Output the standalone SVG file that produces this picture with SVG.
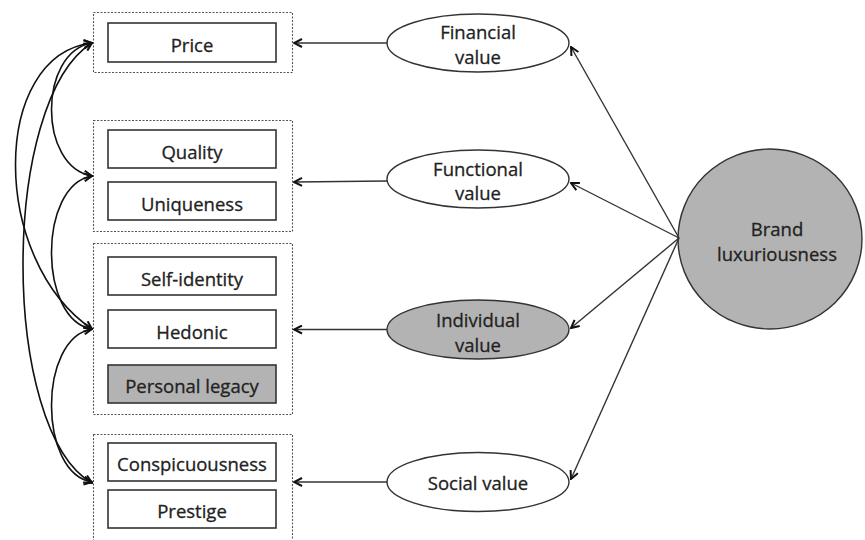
<svg xmlns="http://www.w3.org/2000/svg" width="865" height="540" viewBox="0 0 865 540">
  <defs>
    <style>
      .grp { fill: none; stroke: #555; stroke-width: 1.1; stroke-dasharray: 2 1.5; }
      .item { fill: #fff; stroke: #333; stroke-width: 1.6; }
      .item.shade { fill: #b3b3b3; }
      .oval { fill: #fff; stroke: #333; stroke-width: 1.4; }
      .oval.shade { fill: #b3b3b3; }
      .lbl { font-family: "Open Sans", "Liberation Sans", sans-serif; font-size: 18.5px; fill: #222; stroke: #222; stroke-width: 0.3; text-anchor: middle; }
      .edge { fill: none; stroke: #333; stroke-width: 1.4; }
      .corr { fill: none; stroke: #111; stroke-width: 1.6; }
    </style>
    <marker id="head" viewBox="0 0 10 10" refX="9" refY="5" markerWidth="10" markerHeight="10" markerUnits="userSpaceOnUse" orient="auto-start-reverse">
      <path d="M1,1 L9,5 L1,9" fill="none" stroke="#111" stroke-width="2"/>
    </marker>
  </defs>

  <!-- Group 1: price -->
  <g id="group-financial">
    <rect class="grp" x="93.5" y="12.5" width="199" height="60"/>
    <g id="price">
      <rect class="item" x="108" y="23" width="168" height="39"/>
      <text class="lbl" x="192" y="52">Price</text>
    </g>
  </g>

  <!-- Group 2: quality, uniqueness -->
  <g id="group-functional">
    <rect class="grp" x="93.5" y="120.5" width="199" height="111"/>
    <g id="quality">
      <rect class="item" x="108" y="130" width="168" height="38"/>
      <text class="lbl" x="192" y="158.5">Quality</text>
    </g>
    <g id="uniqueness">
      <rect class="item" x="108" y="182" width="168" height="38"/>
      <text class="lbl" x="192" y="210.5">Uniqueness</text>
    </g>
  </g>

  <!-- Group 3: self-identity, hedonic, personal legacy -->
  <g id="group-individual">
    <rect class="grp" x="93.5" y="243.5" width="199" height="171"/>
    <g id="self-identity">
      <rect class="item" x="108" y="257" width="168" height="38"/>
      <text class="lbl" x="192" y="285.5">Self-identity</text>
    </g>
    <g id="hedonic">
      <rect class="item" x="108" y="310" width="168" height="38"/>
      <text class="lbl" x="192" y="338.5">Hedonic</text>
    </g>
    <g id="personal-legacy">
      <rect class="item shade" x="108" y="365" width="168" height="38"/>
      <text class="lbl" x="192" y="393">Personal legacy</text>
    </g>
  </g>

  <!-- Group 4: conspicuousness, prestige -->
  <g id="group-social">
    <rect class="grp" x="93.5" y="434.5" width="199" height="110"/>
    <g id="conspicuousness">
      <rect class="item" x="108" y="443" width="168" height="38"/>
      <text class="lbl" x="192" y="471">Conspicuousness</text>
    </g>
    <g id="prestige">
      <rect class="item" x="108" y="490" width="168" height="38"/>
      <text class="lbl" x="192" y="518">Prestige</text>
    </g>
  </g>

  <!-- Value dimensions -->
  <g id="financial-value">
    <ellipse class="oval" cx="478" cy="43" rx="91" ry="29"/>
    <text class="lbl" x="478" y="39">Financial</text>
    <text class="lbl" x="478" y="64">value</text>
  </g>
  <g id="functional-value">
    <ellipse class="oval" cx="478" cy="179" rx="91" ry="29"/>
    <text class="lbl" x="478" y="176">Functional</text>
    <text class="lbl" x="478" y="200">value</text>
  </g>
  <g id="individual-value">
    <ellipse class="oval shade" cx="478" cy="329.5" rx="91" ry="29.5"/>
    <text class="lbl" x="478" y="326.5">Individual</text>
    <text class="lbl" x="478" y="351.5">value</text>
  </g>
  <g id="social-value">
    <ellipse class="oval" cx="478" cy="482" rx="91" ry="29.5"/>
    <text class="lbl" x="478" y="490">Social value</text>
  </g>

  <!-- Second-order construct -->
  <g id="brand-luxuriousness">
    <ellipse class="oval shade" cx="770" cy="239" rx="92" ry="90"/>
    <text class="lbl" x="777" y="236">Brand</text>
    <text class="lbl" x="777" y="261">luxuriousness</text>
  </g>

  <!-- Connectors -->
  <g id="connectors">
    <!-- brand luxuriousness to value dimensions -->
    <line class="edge" x1="679" y1="238" x2="571" y2="47" marker-end="url(#head)"/>
    <line class="edge" x1="679" y1="238" x2="571" y2="183" marker-end="url(#head)"/>
    <line class="edge" x1="679" y1="238" x2="571" y2="328" marker-end="url(#head)"/>
    <line class="edge" x1="679" y1="238" x2="571" y2="479" marker-end="url(#head)"/>

    <!-- value dimensions to indicator groups -->
    <line class="edge" x1="387" y1="43" x2="294" y2="43" marker-end="url(#head)"/>
    <line class="edge" x1="387" y1="181" x2="294" y2="182" marker-end="url(#head)"/>
    <line class="edge" x1="387" y1="329.5" x2="294" y2="329.5" marker-end="url(#head)"/>
    <line class="edge" x1="387" y1="482" x2="294" y2="482" marker-end="url(#head)"/>

    <!-- covariances between groups -->
    <path class="corr" d="M92,43 C38,52 38,167 92,176" marker-start="url(#head)" marker-end="url(#head)"/>
    <path class="corr" d="M92,43 C-10,55 -10,260 92,329" marker-start="url(#head)" marker-end="url(#head)"/>
    <path class="corr" d="M92,43 C0,100 0,430 92,483" marker-start="url(#head)" marker-end="url(#head)"/>
    <path class="corr" d="M92,176 C38,185 38,320 92,329" marker-start="url(#head)" marker-end="url(#head)"/>
    <path class="corr" d="M92,329 C38,338 38,473 92,482" marker-start="url(#head)" marker-end="url(#head)"/>
  </g>
</svg>
